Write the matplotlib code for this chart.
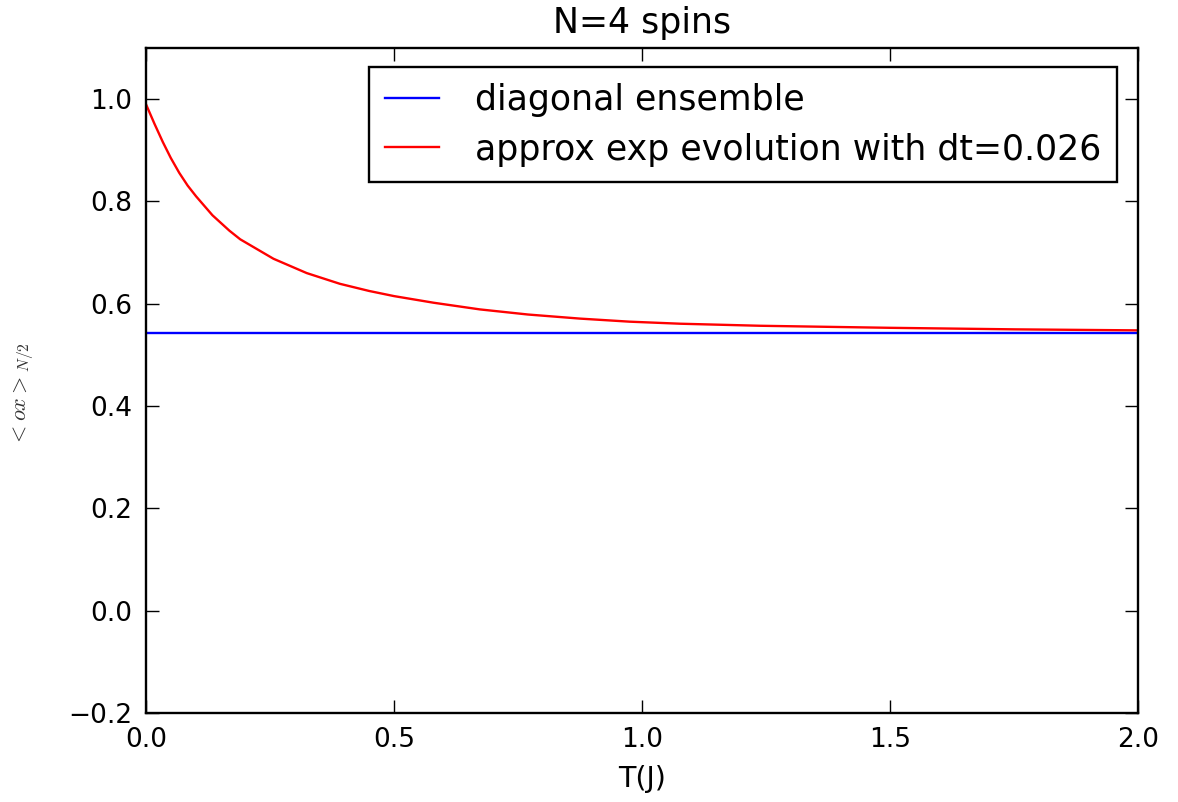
import matplotlib
matplotlib.use("Agg")
import matplotlib.pyplot as plt

T_exp = [0.0, 0.017, 0.034, 0.05, 0.067, 0.084, 0.101, 0.134, 0.168, 0.19, 0.257, 0.324, 0.391,
         0.45, 0.5, 0.58, 0.673, 0.77, 0.875, 0.975, 1.077, 1.238, 1.5, 1.75, 2.0]
V_exp = [0.990, 0.952, 0.916, 0.885, 0.856, 0.831, 0.810, 0.773, 0.743, 0.726, 0.688, 0.660, 0.639,
         0.625, 0.615, 0.602, 0.589, 0.579, 0.571, 0.565, 0.561, 0.557, 0.553, 0.550, 0.548]
T_diag = [0.0, 2.0]
V_diag = [0.543, 0.543]

title = "N=4 spins"
xlabel = "T(J)"
ylabel = r"$<ox>_{N/2}$"
labels = ["diagonal ensemble", "approx exp evolution with dt=0.026"]

plt.rcParams["mathtext.fontset"] = "cm"

fig = plt.figure(figsize=(11.78, 8.02), dpi=100, facecolor="white")
ax = fig.add_axes([146/1178, 1-713/802, (1138-146)/1178, (713-48)/802])
ax.plot(T_diag, V_diag, color="blue", lw=1.7, label=labels[0])
ax.plot(T_exp, V_exp, color="red", lw=1.7, label=labels[1])
ax.set_xlim(0, 2.0)
ax.set_ylim(-0.2, 1.1)
ax.set_xticks([0.0, 0.5, 1.0, 1.5, 2.0])
ax.set_yticks([-0.2, 0.0, 0.2, 0.4, 0.6, 0.8, 1.0])
ax.tick_params(direction="in", top=True, right=True, labelsize=19, length=9.5, width=1, pad=10)
for s in ax.spines.values():
    s.set_linewidth(1.7)
ax.set_title(title, fontsize=25, pad=11)
ax.set_xlabel(xlabel, fontsize=20.5, labelpad=9)
ax.set_ylabel(ylabel, fontsize=16, color="#333333")
ax.yaxis.set_label_coords(-0.111, 0.48)
leg = ax.legend(loc="upper right", bbox_to_anchor=(0.979, 0.971), borderaxespad=0,
                fontsize=25, fancybox=False, framealpha=1, edgecolor="black",
                handlelength=1.55, handletextpad=1.05, borderpad=0.45, labelspacing=0.45)
leg.get_frame().set_linewidth(1.7)
fig.savefig("out.png", dpi=100, facecolor="white")
